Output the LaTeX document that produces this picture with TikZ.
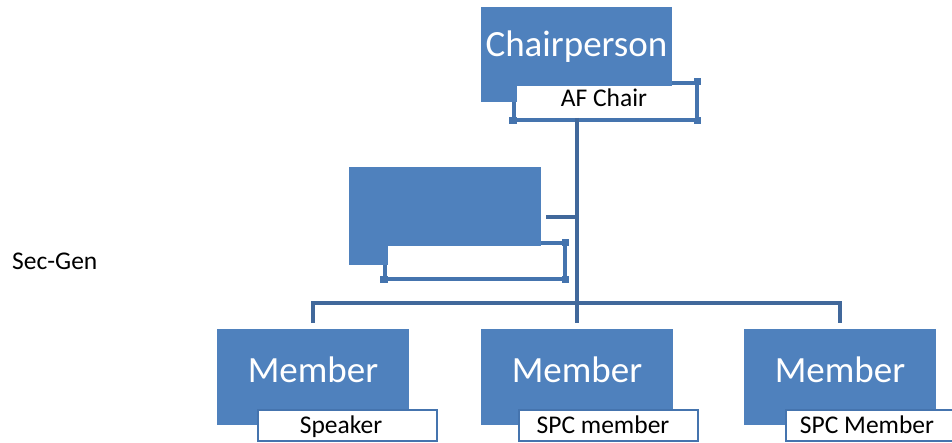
\documentclass[tikz,border=0pt]{standalone}
\usepackage{fontspec}
\setmainfont{Carlito}
\definecolor{boxblue}{HTML}{4F81BD}
\definecolor{connblue}{HTML}{41689B}
\definecolor{frameblue}{HTML}{4574AE}
\begin{document}
\begin{tikzpicture}[x=1pt,y=-1pt,
  bluebox/.style={rectangle,fill=boxblue,draw=none,minimum width=192pt,minimum height=96pt,inner sep=0pt,anchor=north west},
  whitebox/.style={rectangle,fill=white,draw=none,inner sep=0pt,anchor=north west},
  labelbox/.style={rectangle,fill=white,draw=frameblue,line width=2.5pt,inner sep=0pt,anchor=north west,minimum width=179pt,minimum height=31pt},
  conn/.style={draw=connblue,line width=4.5pt},
  frameline/.style={draw=frameblue,line width=4pt},
  nub/.style={fill=frameblue,draw=none},
  bigtext/.style={text=white,font=\fontsize{37}{40}\selectfont,anchor=base,inner sep=0pt},
  smalltext/.style={text=black,font=\fontsize{25.5}{28}\selectfont,anchor=base,inner sep=0pt}]
\useasboundingbox (0,0) rectangle (952,443);
\clip (0,0) rectangle (952,443);

% --- frame lines behind the chair label
\draw[frameline] (511,83) -- (700,83);
\draw[frameline] (511,120) -- (700,120);
\draw[frameline] (514,80) -- (514,123);
\draw[frameline] (697,80) -- (697,123);
\fill[nub] (509,117) rectangle (517,124);
\fill[nub] (694,117) rectangle (701,124);
\fill[nub] (694,78) rectangle (701,85);
% --- frame lines behind the assistant label
\draw[frameline] (382,243) -- (568,243);
\draw[frameline] (382,279) -- (568,279);
\draw[frameline] (385,240) -- (385,282);
\draw[frameline] (565,240) -- (565,282);
\fill[nub] (380,276) rectangle (388,283);
\fill[nub] (562,276) rectangle (569,283);
\fill[nub] (562,239) rectangle (569,246);

% --- blue boxes
\node[bluebox,minimum width=191pt,minimum height=95pt] (chair) at (481,7) {};
\node[bluebox,minimum width=192pt,minimum height=98pt] (asst) at (349,167) {};
\node[bluebox] (m1) at (217,329) {};
\node[bluebox] (m2) at (481,329) {};
\node[bluebox] (m3) at (744,329) {};

% --- white label fills
\node[whitebox,minimum width=178pt,minimum height=32pt] (afc) at (517,86) {};
\node[whitebox,minimum width=174pt,minimum height=30pt] (asl) at (388,246) {};

% --- member labels
\node[labelbox] (l1) at (256.5,408.5) {};
\node[labelbox] (l2) at (517.5,408.5) {};
\node[labelbox,minimum width=200pt] (l3) at (784.5,408.5) {};

% --- texts
\node[bigtext] (tchair) at (576.5,57) {Chairperson};
\node[bigtext] (tm1) at (313,382) {Member};
\node[bigtext] (tm2) at (577,382) {Member};
\node[bigtext] (tm3) at (840,382) {Member};
\node[smalltext] (tafc) at (604,107) {AF Chair};
\node[smalltext] (tl1) at (341,433) {Speaker};
\node[smalltext] (tl2) at (603,433) {SPC member};
\node[smalltext] (tl3) at (867,433) {SPC Member};
\node[smalltext,anchor=base west] (sg) at (12,270) {Sec-Gen};

% --- connectors
\coordinate (bus) at (577,303);
\draw[conn,shorten >=6pt] (577,118) -- (m2.north -| bus);
\draw[conn,shorten <=5pt] (asst.east |- 0,217) -- (bus |- 0,217);
\draw[conn,shorten <=6pt,shorten >=6pt] (m1.north) |- (bus) -| (m3.north);
\end{tikzpicture}
\end{document}
